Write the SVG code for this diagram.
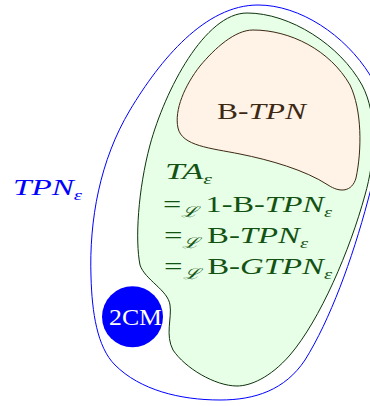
<svg xmlns="http://www.w3.org/2000/svg" width="370" height="406" viewBox="0 0 370 406">
  <style>
    .lbl { font-family: "Liberation Serif", "DejaVu Serif", serif; font-size: 24px; }
    .it { font-style: italic; }
    .sub { font-size: 15px; font-style: italic; }
    .grn { fill: #145214; }
  </style>
  <rect width="370" height="406" fill="#ffffff"/>

  <!-- outer class: TPN_epsilon -->
  <g id="tpn-eps">
    <path d="M258,5 C300,5 345,35 370,75 C385,100 382,150 368,200 C352,260 330,320 305,360 C285,390 255,400 220,400 C180,400 140,390 115,365 C97,347 92,312 91,277 C89,220 100,160 130,110 C160,60 205,5 258,5 Z" fill="#ffffff" stroke="#0000ff" stroke-width="1"/>
    <text class="lbl it" x="13" y="195" fill="#0000ff" textLength="69" lengthAdjust="spacingAndGlyphs">TPN<tspan class="sub" dy="5">ε</tspan></text>
  </g>

  <!-- timed automata and equivalent classes -->
  <g id="ta-eps">
    <path d="M247,13 C290,13 340,45 362,85 C378,115 375,160 365,195 C350,250 320,320 290,355 C270,378 250,386 237,386 C215,386 185,368 173,350 C165,335 172,318 170,305 C168,290 145,280 140,265 C135,240 138,190 150,145 C165,90 205,13 247,13 Z" fill="#e6ffe6" stroke="#0d330d" stroke-width="1"/>
    <text class="lbl grn" x="165" y="179" textLength="47" lengthAdjust="spacingAndGlyphs"><tspan class="it">TA</tspan><tspan class="sub" dy="5">ε</tspan></text>
    <text class="lbl grn" x="163" y="211.5" textLength="169" lengthAdjust="spacingAndGlyphs">=<tspan class="sub" dy="5">ℒ</tspan><tspan dy="-5"> 1-B-</tspan><tspan class="it">TPN</tspan><tspan class="sub" dy="5">ε</tspan></text>
    <text class="lbl grn" x="164" y="243" textLength="144" lengthAdjust="spacingAndGlyphs">=<tspan class="sub" dy="5">ℒ</tspan><tspan dy="-5"> B-</tspan><tspan class="it">TPN</tspan><tspan class="sub" dy="5">ε</tspan></text>
    <text class="lbl grn" x="164" y="274" textLength="168" lengthAdjust="spacingAndGlyphs">=<tspan class="sub" dy="5">ℒ</tspan><tspan dy="-5"> B-</tspan><tspan class="it">GTPN</tspan><tspan class="sub" dy="5">ε</tspan></text>
  </g>

  <!-- bounded TPN -->
  <g id="b-tpn">
    <path d="M253,30 C290,30 330,50 350,85 C362,110 362,150 356,178 C352,192 340,193 328,185 C305,170 270,160 240,154 C210,148 182,146 178,128 C174,110 185,85 200,66 C215,48 235,30 253,30 Z" fill="#fff2e6" stroke="#3d2814" stroke-width="1"/>
    <text class="lbl" x="217" y="118.5" fill="#3d2814" textLength="89" lengthAdjust="spacingAndGlyphs">B-<tspan class="it">TPN</tspan></text>
  </g>

  <!-- two-counter machine -->
  <g id="two-cm">
    <circle cx="132.5" cy="316.8" r="30.5" fill="#0000ff"/>
    <text class="lbl" x="109" y="325" fill="#ffffff" font-size="20" textLength="53" lengthAdjust="spacingAndGlyphs">2CM</text>
  </g>
</svg>
